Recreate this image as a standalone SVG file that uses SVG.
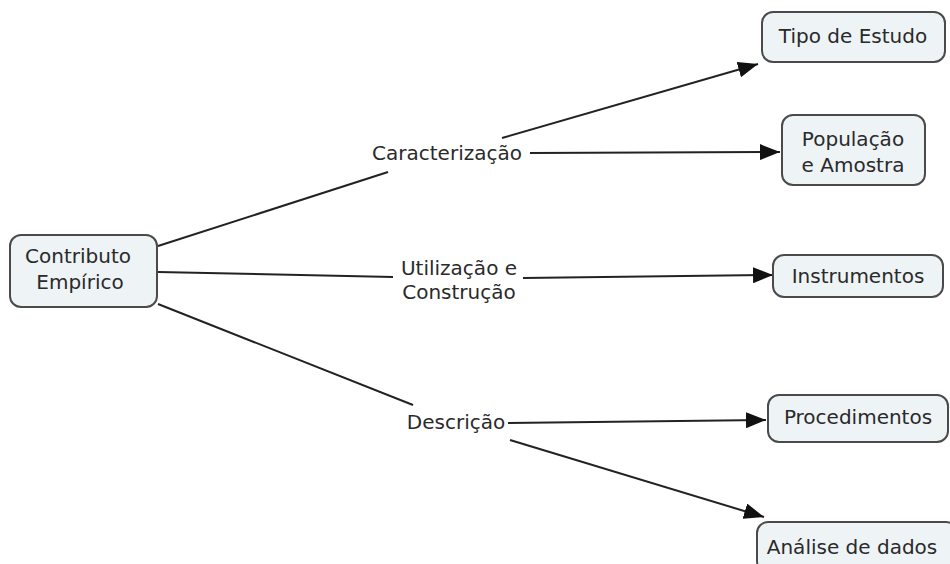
<svg xmlns="http://www.w3.org/2000/svg" width="950" height="564" viewBox="0 0 950 564">
<defs>
<marker id="arr" viewBox="0 0 20 16" refX="20" refY="8" markerWidth="20" markerHeight="16" markerUnits="userSpaceOnUse" orient="auto">
<path d="M0,0 L20,8 L0,16 Z" fill="#111"/>
</marker>
</defs>
<style>
.node rect{fill:#eef3f6;stroke:#4a4a4a;stroke-width:2}
text{font-family:"DejaVu Sans",Verdana,sans-serif;font-size:20px;fill:#2a2a2a;text-anchor:middle}
.conn line{stroke:#222;stroke-width:2;fill:none}
.arrow{marker-end:url(#arr)}
</style>
<rect width="950" height="564" fill="#fff"/>
<g class="conn" id="connectors">
<line x1="158" y1="246" x2="388" y2="172"/>
<line class="arrow" x1="502" y1="138" x2="758" y2="64"/>
<line class="arrow" x1="530" y1="153" x2="780" y2="152"/>
<line x1="158" y1="272" x2="393" y2="277"/>
<line class="arrow" x1="523" y1="278" x2="773" y2="275"/>
<line x1="158" y1="304" x2="413" y2="405"/>
<line class="arrow" x1="508" y1="423" x2="766" y2="420"/>
<line class="arrow" x1="510" y1="440" x2="764" y2="517"/>
</g>
<g id="lbl-caracterizacao"><text x="447" y="160">Caracterização</text></g>
<g id="lbl-utilizacao"><text x="459" y="275">Utilização e</text><text x="459" y="299">Construção</text></g>
<g id="lbl-descricao"><text x="456" y="429">Descrição</text></g>
<g class="node" id="contributo"><rect x="10" y="235" width="147" height="72" rx="11"/><text x="78" y="263">Contributo</text><text x="80" y="289">Empírico</text></g>
<g class="node" id="tipo"><rect x="762" y="12" width="183" height="50" rx="11"/><text x="853" y="43">Tipo de Estudo</text></g>
<g class="node" id="populacao"><rect x="782" y="115" width="143" height="70" rx="11"/><text x="853" y="146">População</text><text x="853" y="172">e Amostra</text></g>
<g class="node" id="instrumentos"><rect x="773" y="255" width="170" height="42" rx="11"/><text x="858" y="283">Instrumentos</text></g>
<g class="node" id="procedimentos"><rect x="768" y="395" width="180" height="47" rx="11"/><text x="858" y="424">Procedimentos</text></g>
<g class="node" id="analise"><rect x="757" y="522" width="200" height="50" rx="11"/><text x="852" y="554">Análise de dados</text></g>
</svg>
